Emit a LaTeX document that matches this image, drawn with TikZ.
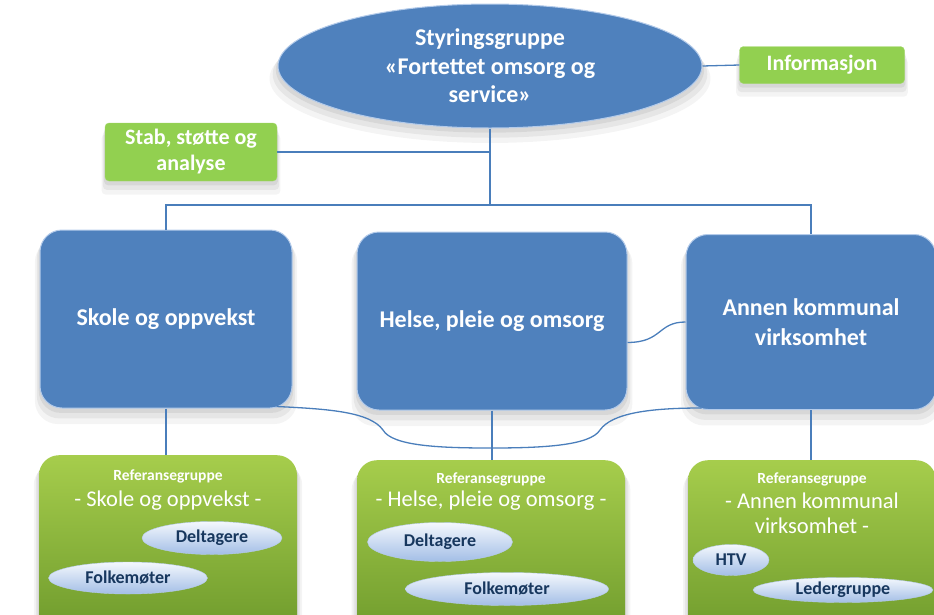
\documentclass[tikz,border=0pt]{standalone}
\usepackage{fontspec}
\setmainfont{Carlito}
\usetikzlibrary{positioning,shapes.geometric,shadows,calc}
\definecolor{boxblue}{HTML}{4F81BD}
\definecolor{lineblue}{HTML}{4A7EBB}
\definecolor{rimblue}{HTML}{B4CBEA}
\definecolor{leafgreen}{HTML}{92D050}
\definecolor{toplight}{HTML}{A6CD4C}
\definecolor{olivegreen}{HTML}{6E9A2C}
\definecolor{bubtop}{HTML}{F4F8FD}
\definecolor{bubbot}{HTML}{A3BEE6}
\definecolor{navy}{HTML}{17375E}
\tikzset{shad/.style={
    drop shadow={opacity=0.14,shadow xshift=0pt,shadow yshift=-4pt,shadow scale=1.01},
    drop shadow={opacity=0.12,shadow xshift=0pt,shadow yshift=-8pt,shadow scale=1.025},
    drop shadow={opacity=0.09,shadow xshift=0pt,shadow yshift=-12pt,shadow scale=1.04}}}

\begin{document}
\begin{tikzpicture}[x=1pt, y=-1pt,
    conn/.style={draw=lineblue, line width=1.3pt},
    unit/.style={draw=rimblue, line width=1pt, fill=boxblue, rounded corners=22pt, shad,
      text=white, align=center, font=\fontsize{24}{30}\selectfont\bfseries},
    tag/.style={draw=leafgreen!85!white, fill=leafgreen, rounded corners=4pt, shad,
      text=white, align=center, font=\fontsize{22}{26}\selectfont\bfseries},
    refbox/.style={rounded corners=20pt, top color=toplight, bottom color=olivegreen, shad},
    reflbl/.style={text=white, inner sep=1pt, font=\fontsize{15.5}{17}\selectfont\bfseries},
    reftitle/.style={text=white, inner sep=1pt, align=center, font=\fontsize{22.5}{25}\selectfont},
    bubble/.style={ellipse, draw=bubbot!80!white, top color=bubtop, bottom color=bubbot,
      text=navy, inner sep=1pt, font=\fontsize{18}{20}\selectfont\bfseries}]
  \useasboundingbox (0,0) rectangle (934,614);

  \node[ellipse, draw=rimblue, line width=1pt, fill=boxblue, shad, text=white, align=center,
    minimum width=424pt, minimum height=124pt, font=\fontsize{24}{28.5}\selectfont\bfseries]
    (styr) at (490,66) {Styringsgruppe\\«Fortettet omsorg og\\service»};
  \node[tag, minimum width=165pt, minimum height=37pt] (info) at (822,65) {Informasjon};
  \node[tag, minimum width=172pt, minimum height=58pt] (stab) at (191,152) {Stab, støtte og\\analyse};

  \node[unit, minimum width=252pt, minimum height=178pt] (skole) at (166,319) {Skole og oppvekst};
  \node[unit, minimum width=270pt, minimum height=178pt] (helse) at (492,321) {Helse, pleie og omsorg};
  \node[unit, minimum width=250pt, minimum height=175pt] (annen) at (811,322) {Annen kommunal\\virksomhet};

  \node[refbox, minimum width=258pt, minimum height=180pt, anchor=north] (ref1) at (168,455) {};
  \node[refbox, minimum width=268pt, minimum height=180pt, anchor=north] (ref2) at (491,460) {};
  \node[refbox, minimum width=248pt, minimum height=180pt, anchor=north] (ref3) at (812,460) {};

  \node[reflbl, below=14pt of ref1.north] (ref1a) {Referansegruppe};
  \node[reftitle, below=5pt of ref1a] (ref1b) {- Skole og oppvekst -};
  \node[reflbl, below=12pt of ref2.north] (ref2a) {Referansegruppe};
  \node[reftitle, below=2pt of ref2a] (ref2b) {- Helse, pleie og omsorg -};
  \node[reflbl, below=12pt of ref3.north] (ref3a) {Referansegruppe};
  \node[reftitle, below=4pt of ref3a] (ref3b) {- Annen kommunal\\virksomhet -};

  \node[bubble, minimum width=140pt, minimum height=33pt] (delt1) at (212,538) {Deltagere};
  \node[bubble, minimum width=159pt, minimum height=32pt] (folk1) at (128,578) {Folkemøter};
  \node[bubble, minimum width=145pt, minimum height=39pt] (delt2) at (440,542) {Deltagere};
  \node[bubble, minimum width=203pt, minimum height=33pt] (folk2) at (507,589) {Folkemøter};
  \node[bubble, minimum width=76pt, minimum height=31pt] (htv) at (731,560) {HTV};
  \node[bubble, minimum width=180pt, minimum height=25pt] (leder) at (843,590) {Ledergruppe};

  \coordinate (bar) at (490,205);
  \coordinate (tip) at (490,448);
  \draw[conn] (styr.east) -- (info.west);
  \draw[conn] (styr.south) -- (bar);
  \draw[conn] (stab.east) -- (stab.east -| styr.south);
  \draw[conn] (skole.north) |- (bar) -| (annen.north);
  \draw[conn] (skole.south) -- (skole.south |- ref1.north);
  \draw[conn] (helse.south) -- (helse.south |- ref2.north);
  \draw[conn] (annen.south) -- (annen.south |- ref3.north);
  \draw[conn] (helse.-9) .. controls +(35,0) and +(-28,0) .. (annen.west);
  \draw[conn] ($(skole.south east)+(-16,-2)$) .. controls (330,409) and (370,412) .. (383,430)
    .. controls (392,446) and (440,448) .. (tip)
    .. controls (540,448) and (590,446) .. (600,430)
    .. controls (612,413) and (650,408) .. ($(annen.south west)+(16,-2)$);
\end{tikzpicture}
\end{document}
